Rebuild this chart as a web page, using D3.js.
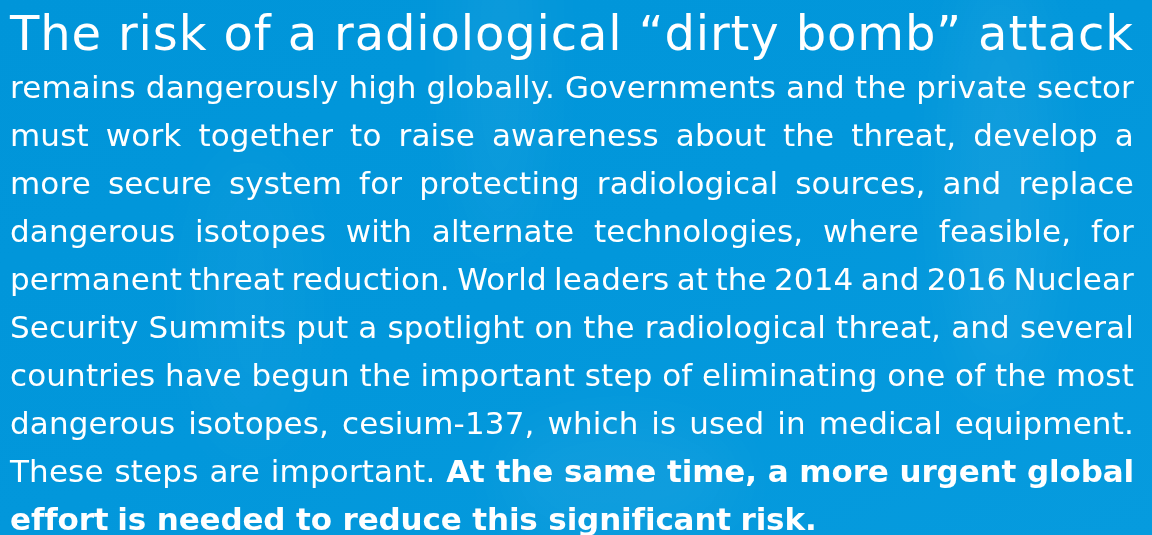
<!DOCTYPE html>
<html>
  <head>
    <meta http-equiv="Content-Type" content="text/html;charset=utf-8"/>
    <script src="https://d3js.org/d3.v7.min.js"></script>
    <style type="text/css">
      html, body { margin: 0; padding: 0; background: #0097db; }
      #chart svg { display: block; }
    </style>
  </head>
  <body>
    <div id="chart"></div>
    <script type="text/javascript">
      // text content, one entry per printed line
      var titleText = "The risk of a radiological \u201Cdirty bomb\u201D attack";
      var bodyLines = [
        "remains dangerously high globally. Governments and the private sector",
        "must work together to raise awareness about the threat, develop a",
        "more secure system for protecting radiological sources, and replace",
        "dangerous isotopes with alternate technologies, where feasible, for",
        "permanent threat reduction. World leaders at the 2014 and 2016 Nuclear",
        "Security Summits put a spotlight on the radiological threat, and several",
        "countries have begun the important step of eliminating one of the most",
        "dangerous isotopes, cesium-137, which is used in medical equipment.",
        "These steps are important. At the same time, a more urgent global",
        "effort is needed to reduce this significant risk."
      ];
      // word index where bold starts on each line (-1 = none)
      var boldStart = [-1, -1, -1, -1, -1, -1, -1, -1, 4, 0];
      // last line is not justified
      var justified = [true, true, true, true, true, true, true, true, true, false];

      var width = 1152, height = 535;
      var left = 10, right = 1134;
      var fontFamily = "'DejaVu Sans', 'Open Sans', sans-serif";

      var svg = d3.select('#chart').append('svg')
        .attr('width', width)
        .attr('height', height);

      // background: blue with soft lighter streaks
      var defs = svg.append('defs');
      var lg = defs.append('linearGradient').attr('id', 'bg')
        .attr('x1', 0).attr('y1', 0).attr('x2', 1).attr('y2', 1);
      lg.append('stop').attr('offset', '0%').attr('stop-color', '#0095d9');
      lg.append('stop').attr('offset', '50%').attr('stop-color', '#0297db');
      lg.append('stop').attr('offset', '100%').attr('stop-color', '#069bde');
      defs.append('filter').attr('id', 'blur')
        .attr('x', '-50%').attr('y', '-50%').attr('width', '200%').attr('height', '200%')
        .append('feGaussianBlur').attr('stdDeviation', 30);

      svg.append('rect').attr('width', width).attr('height', height).attr('fill', 'url(#bg)');

      var streaks = [
        {cx: 500, cy: 60, rx: 40, ry: 200, o: 0.05},
        {cx: 1000, cy: 180, rx: 50, ry: 220, o: 0.06},
        {cx: 620, cy: 480, rx: 120, ry: 60, o: 0.05},
        {cx: 250, cy: 300, rx: 60, ry: 160, o: 0.03}
      ];
      svg.append('g').attr('filter', 'url(#blur)')
        .selectAll('ellipse').data(streaks).enter().append('ellipse')
        .attr('cx', function(d) { return d.cx; })
        .attr('cy', function(d) { return d.cy; })
        .attr('rx', function(d) { return d.rx; })
        .attr('ry', function(d) { return d.ry; })
        .attr('fill', '#ffffff')
        .attr('opacity', function(d) { return d.o; });

      // width of a string at a size / weight (no letter spacing)
      var probe = svg.append('text')
        .attr('font-family', fontFamily)
        .attr('xml:space', 'preserve')
        .attr('visibility', 'hidden');
      function measure(str, size, weight) {
        probe.attr('font-size', size + 'px').attr('font-weight', weight).text(str);
        return probe.node().getComputedTextLength();
      }

      // letter spacing so that a reference line fills left..right
      function fitSpacing(str, size, weight) {
        var natural = measure(str, size, weight);
        return (right - left - natural) / str.length;
      }

      // lay out one line word by word so it spans left..right
      function drawLine(g, words, y, size, weights, lsFor, justify) {
        var spaceW = measure('n n', size, 700) - measure('nn', size, 700) + lsFor(700);
        var nodes = g.selectAll(null).data(words).enter().append('text')
          .attr('y', y)
          .attr('fill', '#ffffff')
          .attr('font-family', fontFamily)
          .attr('font-size', size + 'px')
          .attr('letter-spacing', function(d, i) { return lsFor(weights[i]); })
          .attr('font-weight', function(d, i) { return weights[i]; })
          .text(function(d) { return d; });
        var widths = [];
        nodes.each(function(d, i) {
          widths.push(measure(d, size, weights[i]) + lsFor(weights[i]) * d.length);
        });
        var total = d3.sum(widths);
        var gap = spaceW;
        if (justify && words.length > 1) {
          gap = (right - left - total) / (words.length - 1);
        }
        var x = left;
        nodes.attr('x', function(d, i) {
          var cur = x;
          x += widths[i] + gap;
          return cur;
        });
      }

      var titleSize = 48, bodySize = 31;
      var titleWords = titleText.split(' ');
      var titleLs = fitSpacing(titleText, titleSize, 400);
      drawLine(svg.append('g'), titleWords, 50, titleSize,
        titleWords.map(function() { return 400; }),
        function() { return titleLs; }, true);

      var bodyLs = fitSpacing(bodyLines[0], bodySize, 400);
      // bold face runs a touch tighter
      var lsFor = function(w) { return w >= 700 ? bodyLs - 0.3 : bodyLs; };
      var lineY = d3.scaleLinear().domain([0, 1]).range([97.5, 145.5]);
      bodyLines.forEach(function(line, li) {
        var words = line.split(' ');
        var weights = words.map(function(w, wi) {
          return (boldStart[li] >= 0 && wi >= boldStart[li]) ? 700 : 400;
        });
        drawLine(svg.append('g'), words, lineY(li), bodySize, weights, lsFor, justified[li]);
      });
      probe.remove();
    </script>
  </body>
</html>
